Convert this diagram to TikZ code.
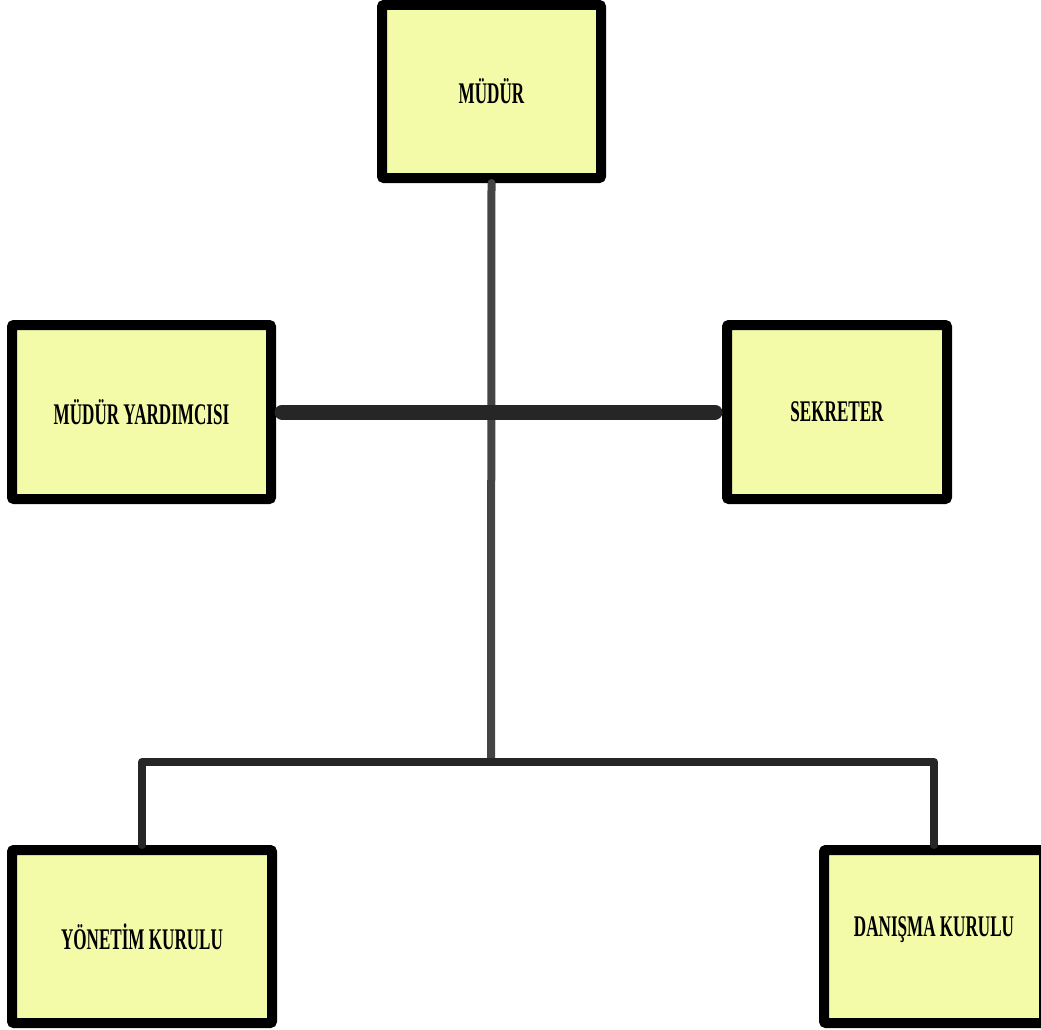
\documentclass[tikz,border=0pt]{standalone}
\usepackage{fontspec}
\newfontfamily\orgfont{Liberation Serif}[FakeStretch=0.57]
\definecolor{boxfill}{HTML}{F3FBA8}
\definecolor{linedark}{HTML}{262626}
\definecolor{linegray}{HTML}{444444}
\begin{document}
\begin{tikzpicture}[
    x=1pt, y=-1pt,
    unit/.style={rectangle, draw=black, line width=10pt, fill=boxfill, rounded corners=2pt,
        minimum height=173pt, font=\orgfont\bfseries\fontsize{30}{36}\selectfont, inner sep=0pt},
    bond/.style={line width=8pt, linedark, line cap=round, line join=round},
]
\useasboundingbox (0,0) rectangle (1041,1030);

\node[unit, minimum width=219pt] (mudur) at (491.5,91.5) {MÜDÜR};
\node[unit, minimum width=259pt, minimum height=174pt] (yardimci) at (141.5,412) {MÜDÜR YARDIMCISI};
\node[unit, minimum width=220pt, minimum height=174pt] (sekreter) at (837,412) {SEKRETER};
\node[unit, minimum width=260pt] (yonetim) at (142,936.5) {YÖNETİM KURULU};
\node[unit, minimum width=220pt] (danisma) at (934,936.5) {\raisebox{19pt}{DANIŞMA KURULU}};

\coordinate (bus) at (491,762);
\draw[bond, linegray] (mudur.south) -- (bus);
\draw[bond, line width=15pt, shorten <=6pt, shorten >=7pt] (yardimci.east) -- (sekreter.west);
\draw[bond] (yonetim.north) |- (bus) -| (danisma.north);

\end{tikzpicture}
\end{document}
